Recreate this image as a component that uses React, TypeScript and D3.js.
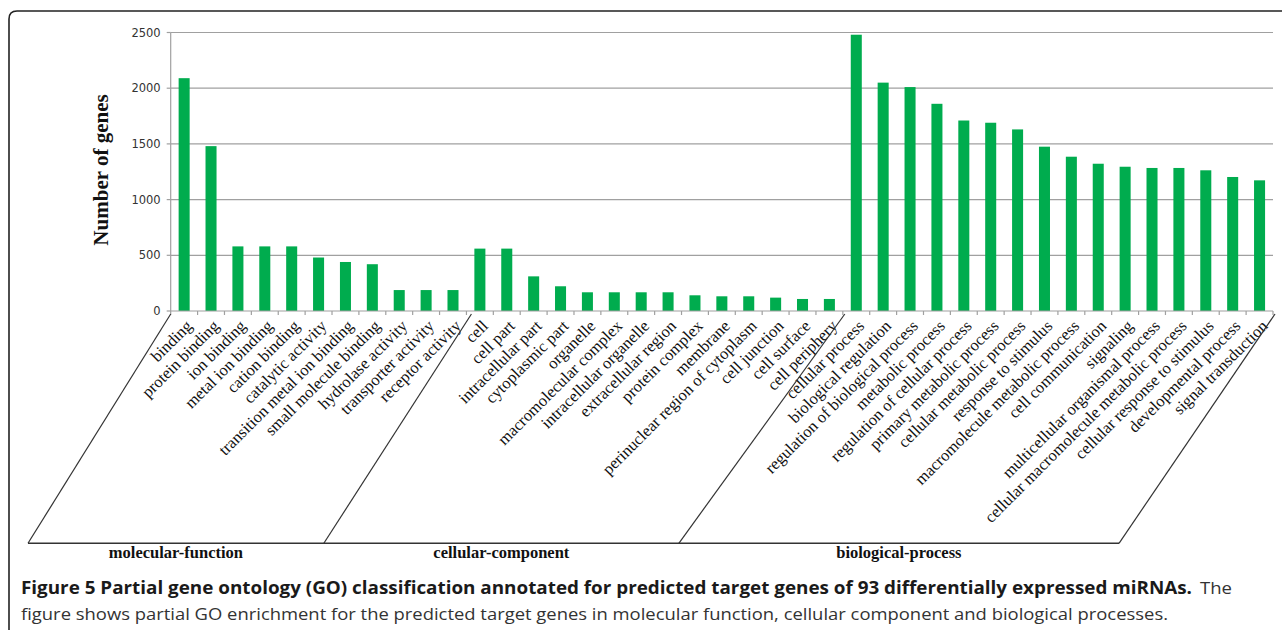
import React, { useEffect, useRef } from 'react';
import * as d3 from 'd3';

// GO terms and gene counts
const mfTerms = [
  'binding',
  'protein binding',
  'ion binding',
  'metal ion binding',
  'cation binding',
  'catalytic activity',
  'transition metal ion binding',
  'small molecule binding',
  'hydrolase activity',
  'transporter activity',
  'receptor activity',
];
const mfCounts = [2090, 1480, 580, 580, 580, 480, 440, 420, 188, 188, 188];

const ccTerms = [
  'cell',
  'cell part',
  'intracellular part',
  'cytoplasmic part',
  'organelle',
  'macromolecular complex',
  'intracellular organelle',
  'extracellular region',
  'protein complex',
  'membrane',
  'perinuclear region of cytoplasm',
  'cell junction',
  'cell surface',
  'cell periphery',
];
const ccCounts = [560, 560, 311, 222, 168, 168, 168, 168, 141, 132, 132, 120, 108, 108];

const bpTerms = [
  'cellular process',
  'biological regulation',
  'regulation of biological process',
  'metabolic process',
  'regulation of cellular process',
  'primary metabolic process',
  'cellular metabolic process',
  'response to stimulus',
  'macromolecule metabolic process',
  'cell communication',
  'signaling',
  'multicellular organismal process',
  'cellular macromolecule metabolic process',
  'cellular response to stimulus',
  'developmental process',
  'signal transduction',
];
const bpCounts = [
  2480, 2050, 2010, 1860, 1710, 1690, 1630, 1475, 1385, 1322, 1295, 1284, 1284, 1263, 1203, 1173,
];

const groupNames = ['molecular-function', 'cellular-component', 'biological-process'];
const yTicks = [0, 500, 1000, 1500, 2000, 2500];

const captionBold =
  'Figure 5 Partial gene ontology (GO) classification annotated for predicted target genes of 93 differentially expressed miRNAs.';
const captionTail = 'The';
const captionLine2 =
  'figure shows partial GO enrichment for the predicted target genes in molecular function, cellular component and biological processes.';

const W = 1282;
const H = 630;

export default function App() {
  const svgRef = useRef<SVGSVGElement>(null);

  useEffect(() => {
    if (!svgRef.current) return;
    const svg = d3.select(svgRef.current);
    svg.selectAll('*').remove();

    const data = [
      ...mfTerms.map((t, i) => ({ term: t, value: mfCounts[i] })),
      ...ccTerms.map((t, i) => ({ term: t, value: ccCounts[i] })),
      ...bpTerms.map((t, i) => ({ term: t, value: bpCounts[i] })),
    ];

    const left = 170.7;
    const right = 1273;
    const top = 32.5;
    const base = 311;

    const x = d3
      .scaleBand<string>()
      .domain(data.map((d) => d.term))
      .range([left, right])
      .paddingInner(0.59)
      .paddingOuter(0.295);
    const step = x.step();
    const edge = (i: number) => left + i * step;

    const y = d3.scaleLinear().domain([0, 2500]).range([base, top]);

    // outer frame of the figure
    svg
      .append('path')
      .attr('d', `M9,${H + 10} L9,19 Q9,11 17,11 L${W + 10},11`)
      .attr('fill', 'none')
      .attr('stroke', '#222')
      .attr('stroke-width', 1.6);

    // gridlines
    svg
      .append('g')
      .selectAll('line')
      .data(yTicks.filter((t) => t > 0))
      .enter()
      .append('line')
      .attr('x1', left)
      .attr('x2', right)
      .attr('y1', (d) => y(d))
      .attr('y2', (d) => y(d))
      .attr('stroke', '#a0a0a0')
      .attr('stroke-width', 1.2);

    // y axis
    const yAxis = svg.append('g');
    yAxis
      .append('line')
      .attr('x1', left)
      .attr('x2', left)
      .attr('y1', top)
      .attr('y2', base)
      .attr('stroke', '#a0a0a0')
      .attr('stroke-width', 1.2);
    yAxis
      .selectAll('.tick')
      .data(yTicks)
      .enter()
      .append('line')
      .attr('x1', left - 4)
      .attr('x2', left)
      .attr('y1', (d) => y(d))
      .attr('y2', (d) => y(d))
      .attr('stroke', '#a0a0a0')
      .attr('stroke-width', 1.2);
    yAxis
      .selectAll('text')
      .data(yTicks)
      .enter()
      .append('text')
      .attr('x', left - 10)
      .attr('y', (d) => y(d))
      .attr('dy', '0.36em')
      .attr('text-anchor', 'end')
      .attr('font-family', 'DejaVu Sans, Verdana, sans-serif')
      .attr('font-size', 11.5)
      .attr('fill', '#333')
      .text((d) => d);

    svg
      .append('text')
      .attr('transform', `translate(101,170) rotate(-90)`)
      .attr('text-anchor', 'middle')
      .attr('dominant-baseline', 'central')
      .attr('font-family', 'Liberation Serif, Times New Roman, serif')
      .attr('font-weight', 'bold')
      .attr('font-size', 21)
      .attr('fill', '#111')
      .text('Number of genes');

    // bars
    svg
      .append('g')
      .selectAll('rect')
      .data(data)
      .enter()
      .append('rect')
      .attr('x', (d) => x(d.term) || 0)
      .attr('y', (d) => y(d.value))
      .attr('width', x.bandwidth())
      .attr('height', (d) => base - y(d.value))
      .attr('fill', '#00ac4e');

    // x axis
    const xAxis = svg.append('g');
    xAxis
      .append('line')
      .attr('x1', left)
      .attr('x2', right)
      .attr('y1', base)
      .attr('y2', base)
      .attr('stroke', '#a0a0a0')
      .attr('stroke-width', 1.2);
    xAxis
      .selectAll('.tick')
      .data(d3.range(data.length + 1))
      .enter()
      .append('line')
      .attr('x1', (i) => edge(i))
      .attr('x2', (i) => edge(i))
      .attr('y1', base)
      .attr('y2', base + 4)
      .attr('stroke', '#a0a0a0')
      .attr('stroke-width', 1.2);

    // rotated category labels
    xAxis
      .selectAll('text')
      .data(data)
      .enter()
      .append('text')
      .attr(
        'transform',
        (d) => `translate(${(x(d.term) || 0) + x.bandwidth() / 2 + 9},${base + 16}) rotate(-45)`
      )
      .attr('text-anchor', 'end')
      .attr('font-family', 'Liberation Serif, Times New Roman, serif')
      .attr('font-size', 16.5)
      .attr('fill', '#111')
      .text((d) => d.term);

    // slanted group dividers and group labels
    const groupEdges = [0, mfTerms.length, mfTerms.length + ccTerms.length, data.length];
    const slantTop = [0, 5, 2, 2];
    const slantSpread = [142.7, 147.6, 166, 156];
    const floor = 543.3;
    const bottoms = groupEdges.map((g, i) => edge(g) + slantTop[i] - slantSpread[i]);
    const dividers = svg.append('g');
    groupEdges.forEach((g, i) => {
      dividers
        .append('line')
        .attr('x1', edge(g) + slantTop[i])
        .attr('y1', base + 3)
        .attr('x2', bottoms[i])
        .attr('y2', floor)
        .attr('stroke', '#333')
        .attr('stroke-width', 1.2);
    });
    dividers
      .append('line')
      .attr('x1', bottoms[0])
      .attr('x2', bottoms[bottoms.length - 1])
      .attr('y1', floor)
      .attr('y2', floor)
      .attr('stroke', '#333')
      .attr('stroke-width', 1.4);
    dividers
      .selectAll('text')
      .data(groupNames)
      .enter()
      .append('text')
      .attr('x', (_d, i) => (bottoms[i] + bottoms[i + 1]) / 2)
      .attr('y', 558)
      .attr('text-anchor', 'middle')
      .attr('font-family', 'Liberation Serif, Times New Roman, serif')
      .attr('font-weight', 'bold')
      .attr('font-size', 16.5)
      .attr('fill', '#111')
      .text((d) => d);

    // caption
    const cap = svg.append('g').attr('font-family', 'Open Sans, Noto Sans, sans-serif');
    cap
      .append('text')
      .attr('x', 21)
      .attr('y', 594)
      .attr('font-size', 17)
      .attr('font-weight', 'bold')
      .attr('fill', '#1a1a1a')
      .attr('textLength', 1171)
      .attr('lengthAdjust', 'spacingAndGlyphs')
      .text(captionBold);
    cap
      .append('text')
      .attr('x', 1200)
      .attr('y', 594)
      .attr('font-size', 17)
      .attr('fill', '#333')
      .attr('textLength', 32)
      .attr('lengthAdjust', 'spacingAndGlyphs')
      .text(captionTail);
    cap
      .append('text')
      .attr('x', 21)
      .attr('y', 620)
      .attr('font-size', 17)
      .attr('fill', '#333')
      .attr('textLength', 1147)
      .attr('lengthAdjust', 'spacingAndGlyphs')
      .text(captionLine2);
  }, []);

  return (
    <svg
      ref={svgRef}
      width={W}
      height={H}
      style={{ position: 'absolute', left: 0, top: 0, display: 'block', background: '#fff' }}
    />
  );
}
